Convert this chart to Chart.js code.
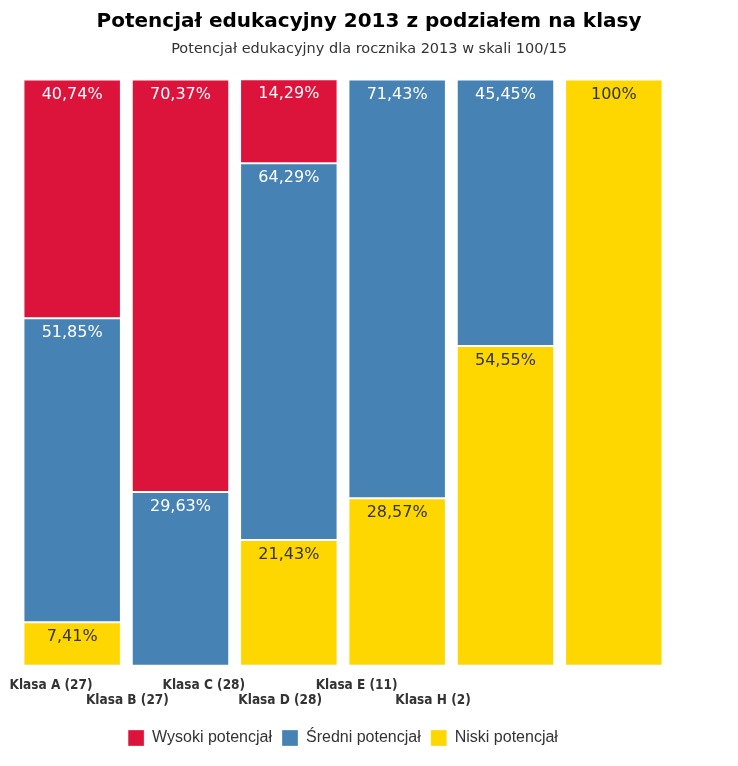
<!DOCTYPE html>
<html>
<head>
<meta charset="utf-8">
<script src="https://cdn.jsdelivr.net/npm/chart.js@4/dist/chart.umd.min.js"></script>
<style>
html,body{margin:0;padding:0;background:#fff;}
#wrap{width:738px;height:766px;}
</style>
</head>
<body>
<div id="wrap"><canvas id="c" width="738" height="766"></canvas></div>
<script>
const categories = ['Klasa A (27)', 'Klasa B (27)', 'Klasa C (28)', 'Klasa D (28)', 'Klasa E (11)', 'Klasa H (2)'];
const seriesNames = ['Wysoki potencjał', 'Średni potencjał', 'Niski potencjał'];
const wysoki = [40.74, 70.37, 14.29, 0, 0, 0];
const sredni = [51.85, 29.63, 64.29, 71.43, 45.45, 0];
const niski  = [7.41, 0, 21.43, 28.57, 54.55, 100];
const colors = ['#DC143C', '#4682B4', '#FFD700'];
const labelColors = ['#ffffff', '#ffffff', '#333333'];
const labelAxisMin = -0.432;
const labelAxisMax = 8.076;

function fmt(v) {
  return (Number.isInteger(v) ? String(v) : v.toFixed(2).replace('.', ',')) + '%';
}

const dataLabels = {
  id: 'dataLabels',
  afterDatasetsDraw(chart) {
    const ctx = chart.ctx;
    ctx.save();
    ctx.font = '16px "DejaVu Sans"';
    ctx.textAlign = 'center';
    ctx.textBaseline = 'top';
    chart.data.datasets.forEach((ds, di) => {
      const meta = chart.getDatasetMeta(di);
      meta.data.forEach((bar, i) => {
        const v = ds.data[i];
        if (!v) return;
        ctx.fillStyle = ds.labelColor;
        ctx.fillText(fmt(v), bar.x, bar.y + 7);
      });
    });
    ctx.restore();
  }
};

// datasets are listed bottom-to-top for stacking; legend is reversed
const datasets = [
  {label: seriesNames[2], data: niski, backgroundColor: colors[2], labelColor: labelColors[2]},
  {label: seriesNames[1], data: sredni, backgroundColor: colors[1], labelColor: labelColors[1]},
  {label: seriesNames[0], data: wysoki, backgroundColor: colors[0], labelColor: labelColors[0]}
].map(d => Object.assign(d, {
  borderColor: 'rgba(255,255,255,0.3)',
  borderWidth: 1,
  borderSkipped: false,
  categoryPercentage: 1.0,
  barPercentage: 0.9
}));

new Chart(document.getElementById('c'), {
  type: 'bar',
  data: {labels: categories, datasets},
  plugins: [dataLabels],
  options: {
    responsive: false,
    animation: false,
    layout: {padding: {left: 18, right: 18, top: 10, bottom: 10}},
    scales: {
      x: {stacked: true, display: false},
      x2: {
        type: 'linear',
        position: 'bottom',
        offset: false,
        bounds: 'data',
        min: labelAxisMin,
        max: labelAxisMax,
        grid: {display: false, drawTicks: false, offset: false},
        border: {display: false},
        afterBuildTicks(scale) {
          scale.ticks = categories.map((c, i) => ({value: i}));
          scale.min = labelAxisMin;
          scale.max = labelAxisMax;
        },
        afterFit(scale) {
          scale.paddingLeft = 0;
          scale.paddingRight = 0;
        },
        ticks: {
          autoSkip: false,
          maxRotation: 0,
          padding: 12,
          color: '#333333',
          font: {family: '"DejaVu Sans Condensed"', weight: 'bold', size: 13.5, lineHeight: 1.12},
          callback(value) {
            const name = categories[value];
            return value % 2 === 0 ? [name] : ['', name];
          }
        }
      },
      y: {
        stacked: true,
        position: 'right',
        min: 0,
        max: 100,
        grid: {display: false},
        border: {display: false},
        ticks: {display: false},
        afterFit(scale) { scale.width = 52; }
      }
    },
    plugins: {
      title: {
        display: true,
        text: 'Potencjał edukacyjny 2013 z podziałem na klasy',
        color: '#000000',
        font: {family: '"DejaVu Sans"', weight: 'bold', size: 20},
        padding: {top: 0, bottom: 7}
      },
      subtitle: {
        display: true,
        text: 'Potencjał edukacyjny dla rocznika 2013 w skali 100/15',
        color: '#333333',
        font: {family: '"DejaVu Sans"', size: 14.5},
        padding: {top: 0, bottom: 21}
      },
      legend: {
        position: 'bottom',
        fullSize: false,
        reverse: true,
        labels: {
          color: '#333333',
          font: {family: '"Liberation Sans"', size: 16},
          boxWidth: 16,
          boxHeight: 16,
          padding: 10
        }
      },
      tooltip: {enabled: false}
    }
  }
});
</script>
</body>
</html>
